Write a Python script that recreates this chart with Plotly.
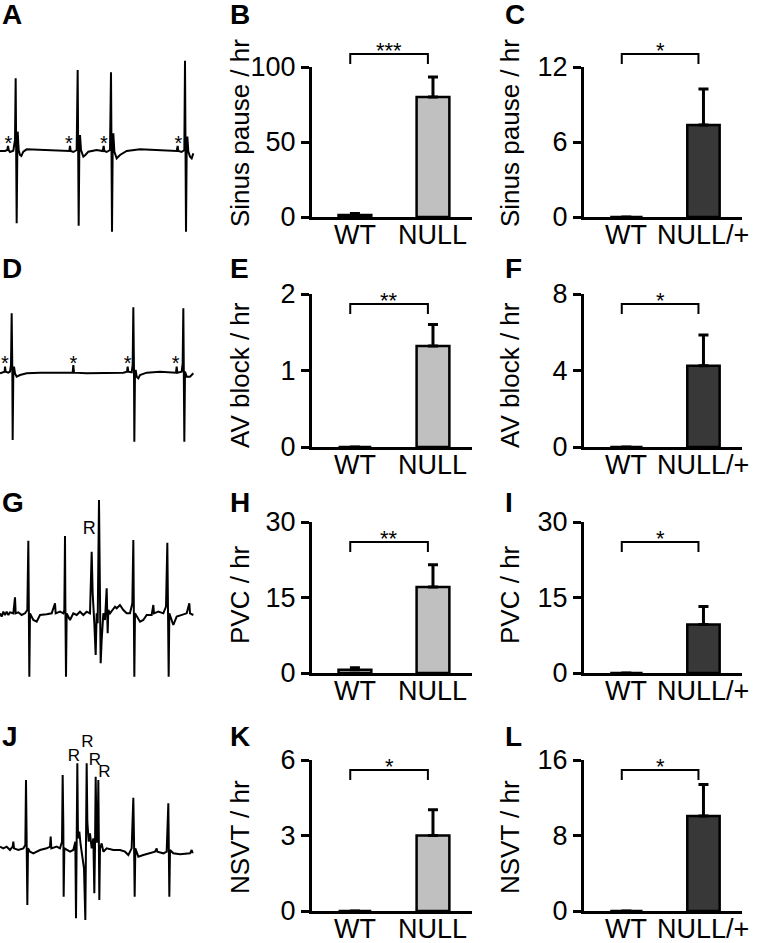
import plotly.graph_objects as go

W, H = 759, 943
FONT = "Liberation Sans, Arial, Helvetica, sans-serif"

# ---------------- ECG traces (time units, amplitude units) ----------------
ecg_a_t = [0, 15, 22, 24, 26, 30, 40, 45, 47, 49, 50, 52, 53, 56, 60, 64, 70, 80, 120, 160, 200, 208, 210, 212, 220, 230,
           233, 235, 236, 238, 240, 243, 250, 256, 265, 290, 308, 311, 313, 320, 330, 333, 335, 336, 338, 340, 343, 350,
           360, 380, 420, 500, 530, 533, 535, 545, 553, 555, 557, 558, 560, 562, 565, 570, 575, 580]
ecg_a_v = [-3, -3, 0, 12, 0, -6, -2, 30, 215, 0, -220, 0, 55, 0, -15, -18, -5, 2, 0, 0, -3, -3, 12, -3, -6, 0,
           240, 0, -227, 0, 45, 0, -20, -15, -5, 0, -3, 12, -3, -6, 0, 233, 0, -245, 0, 50, -5, -25,
           -15, -3, 2, 0, -3, 12, -3, -6, 0, 268, 0, -245, 0, 40, -5, -20, -25, -10]
ecg_a_star_t = [25, 207, 312, 535]

ecg_d_t = [0, 10, 14, 15, 17, 25, 30, 33, 35, 37, 38, 40, 42, 45, 50, 60, 80, 120, 160, 200, 218, 220, 222, 260, 300,
           340, 370, 381, 383, 385, 395, 398, 400, 402, 403, 405, 407, 410, 415, 420, 440, 480, 520, 528, 530, 532,
           545, 548, 550, 552, 553, 555, 560, 570, 580]
ecg_d_v = [-5, -3, 0, 15, 0, -3, 0, 20, 175, 0, -205, 0, 15, -5, -15, -10, -5, -3, -3, -3, -3, 20, -3, -5, -5,
           -5, -3, 0, 15, 0, -2, 20, 193, 0, -210, 0, 5, -15, -20, -10, -3, 0, -3, -3, 15, -3,
           0, 25, 190, 0, -210, 0, -15, -15, -5]
ecg_d_star_t = [15, 220, 383, 527]

ecg_g_t = [0, 5, 10, 15, 20, 25, 30, 40, 45, 47, 55, 65, 75, 82, 85, 87, 88, 90, 95, 100, 110, 120, 140, 155, 165,
           167, 180, 190, 193, 195, 196, 198, 200, 205, 210, 220, 230, 240, 250, 260, 270, 275, 278, 283, 287, 290,
           293, 297, 300, 302, 305, 310, 315, 320, 323, 325, 330, 345, 350, 360, 370, 380, 390, 397, 400, 402, 403,
           405, 410, 420, 430, 440, 455, 460, 462, 475, 490, 498, 502, 504, 506, 508, 513, 520, 530, 545, 560, 568,
           570, 580]
ecg_g_v = [0, -10, 5, -5, 5, -5, 3, 0, 48, 0, 3, -5, 0, 10, 218, 40, -190, 0, -10, -20, -25, -5, -3, 0, 30,
           0, 5, 0, 10, 232, 40, -190, 0, -10, -20, 0, -5, 5, -5, 5, 0, 185, 60, -30, -125, 0,
           -30, 340, -60, -150, -80, 0, -20, 75, -60, 10, 0, 20, 15, 25, 10, 0, 0, 30, 220, 40, -190,
           0, -10, -25, -20, -5, -5, 25, 0, 5, 0, 20, 212, 40, -190, 0, -15, -35, -10, -5, 0, 30,
           0, -5]
ecg_g_labels_t = [268]
ecg_g_labels_v = [252]

ecg_j_t = [0, 10, 20, 30, 38, 40, 42, 55, 70, 76, 78, 80, 82, 84, 90, 100, 120, 140, 150, 152, 154, 170, 180, 186,
           188, 190, 191, 193, 200, 210, 220, 226, 228, 230, 232, 234, 238, 242, 248, 252, 256, 258, 260, 262, 266,
           270, 275, 280, 283, 285, 287, 290, 293, 295, 297, 298, 300, 305, 310, 320, 340, 360, 375, 385, 395, 400,
           402, 404, 406, 415, 430, 450, 465, 470, 472, 490, 500, 505, 507, 508, 510, 520, 540, 560, 570, 575, 578]
ecg_j_v = [5, 0, 5, -5, 5, 20, 0, -5, 0, 10, 205, 75, -170, 0, -10, -15, -5, 0, 5, 35, 0, 5, 0, 20,
           220, 65, -145, 0, -5, -10, -5, 20, -210, 0, 255, 30, 50, 10, -30, -60, -215, 0, 255, 80, 20,
           45, 0, 30, -135, 0, 215, 20, 20, 205, 0, -155, 0, 15, -10, 0, -5, -5, -10, -20, 0, 152,
           30, -145, 0, -25, -20, -15, -10, 0, -10, -15, -10, 135, 20, -145, -5, -15, -18, -15, -15, -5, -15]
ecg_j_labels_t = [222, 262, 285, 313]
ecg_j_labels_v = [275, 317, 262, 227]

# ---------------- Bar data ----------------
groups_2 = ["WT", "NULL"]
groups_3 = ["WT", "NULL/+"]

sinus_null_mean = [1.3, 80.0]
sinus_null_err = [1.1, 13.3]
sinus_het_mean = [0.0, 7.36]
sinus_het_err = [0.0, 2.88]

av_null_mean = [0.0, 1.32]
av_null_err = [0.0, 0.28]
av_het_mean = [0.0, 4.25]
av_het_err = [0.0, 1.61]

pvc_null_mean = [0.65, 17.1]
pvc_null_err = [0.4, 4.4]
pvc_het_mean = [0.0, 9.66]
pvc_het_err = [0.0, 3.54]

nsvt_null_mean = [0.0, 3.0]
nsvt_null_err = [0.0, 1.02]
nsvt_het_mean = [0.0, 10.07]
nsvt_het_err = [0.0, 3.33]

y_titles = ["Sinus pause / hr", "AV block / hr", "PVC / hr", "NSVT / hr"]
y_ticks_2 = [[0, 50, 100], [0, 1, 2], [0, 15, 30], [0, 3, 6]]
y_ticks_3 = [[0, 6, 12], [0, 4, 8], [0, 15, 30], [0, 8, 16]]
stars_2 = ["***", "**", "**", "*"]
stars_3 = ["*", "*", "*", "*"]
letters = [["A", "B", "C"], ["D", "E", "F"], ["G", "H", "I"], ["J", "K", "L"]]

NULL_COLOR = "#c0c0c0"
HET_COLOR = "#383838"

# ---------------- layout geometry (pixels) ----------------
row_top = [67, 294, 522, 760]
row_bot = [217, 447, 673, 911]
col_x = [(312, 472), (584, 742)]
ecg_rows = [(40, 240, -270, 330), (270, 450, -235, 305), (490, 680, -200, 370), (700, 920, -215, 445)]
bracket_px = [(54, 64), (304, 314), (542, 552), (770, 780)]
title_y = [133, 375, 595, 837]
title_x = [240, 510]
letter_y = [15, 268, 502, 736]
letter_x = [0, 228, 503]
xlabel_gap = 18


def fx(p):
    return p / W


def fy(p):
    return 1 - p / H


fig = go.Figure()
layout = dict(template="none", width=W, height=H, margin=dict(l=0, r=0, t=0, b=0, pad=0),
              paper_bgcolor="white", plot_bgcolor="rgba(0,0,0,0)", showlegend=False,
              font=dict(family=FONT, color="black"))
annotations = []
ax_n = 0


def new_axes():
    global ax_n
    ax_n += 1
    s = "" if ax_n == 1 else str(ax_n)
    return s


# ECG panels
ecg_data = [(ecg_a_t, ecg_a_v), (ecg_d_t, ecg_d_v), (ecg_g_t, ecg_g_v), (ecg_j_t, ecg_j_v)]
for r, (t, v) in enumerate(ecg_data):
    s = new_axes()
    top, bot, lo, hi = ecg_rows[r]
    layout["xaxis" + s] = dict(domain=[0, fx(200)], range=[0, 600], visible=False, anchor="y" + s,
                               automargin=False)
    layout["yaxis" + s] = dict(domain=[fy(bot), fy(top)], range=[lo, hi], visible=False, anchor="x" + s,
                               automargin=False)
    fig.add_trace(go.Scatter(x=t, y=v, mode="lines", line=dict(color="black", width=2),
                             xaxis="x" + s, yaxis="y" + s, hoverinfo="skip"))
    if r == 0:
        fig.add_trace(go.Scatter(x=ecg_a_star_t, y=[15] * len(ecg_a_star_t), mode="text", text=["*"] * 4,
                                 textfont=dict(size=20, family=FONT), textposition="middle center",
                                 xaxis="x" + s, yaxis="y" + s, cliponaxis=False))
    if r == 1:
        fig.add_trace(go.Scatter(x=ecg_d_star_t, y=[20] * len(ecg_d_star_t), mode="text", text=["*"] * 4,
                                 textfont=dict(size=20, family=FONT), textposition="middle center",
                                 xaxis="x" + s, yaxis="y" + s, cliponaxis=False))
    if r == 2:
        fig.add_trace(go.Scatter(x=ecg_g_labels_t, y=ecg_g_labels_v, mode="text", text=["R"],
                                 textfont=dict(size=18, family=FONT), textposition="middle center",
                                 xaxis="x" + s, yaxis="y" + s, cliponaxis=False))
    if r == 3:
        fig.add_trace(go.Scatter(x=ecg_j_labels_t, y=ecg_j_labels_v, mode="text", text=["R"] * 4,
                                 textfont=dict(size=17, family=FONT), textposition="middle center",
                                 xaxis="x" + s, yaxis="y" + s, cliponaxis=False))

# Bar panels
bar_sets = [
    [(sinus_null_mean, sinus_null_err), (sinus_het_mean, sinus_het_err)],
    [(av_null_mean, av_null_err), (av_het_mean, av_het_err)],
    [(pvc_null_mean, pvc_null_err), (pvc_het_mean, pvc_het_err)],
    [(nsvt_null_mean, nsvt_null_err), (nsvt_het_mean, nsvt_het_err)],
]
XR = [-0.55, 1.5]
for r in range(4):
    for c in range(2):
        mean, err = bar_sets[r][c]
        ticks = y_ticks_2[r] if c == 0 else y_ticks_3[r]
        ymax = ticks[-1]
        labels = groups_2 if c == 0 else groups_3
        color = NULL_COLOR if c == 0 else HET_COLOR
        x0, x1 = col_x[c]
        s = new_axes()
        layout["xaxis" + s] = dict(domain=[fx(x0), fx(x1)], range=XR, anchor="y" + s, showline=True,
                                   linecolor="black", linewidth=3, tickvals=[0, 1], ticktext=labels,
                                   ticks="", showticklabels=False,
                                   showgrid=False, zeroline=False, fixedrange=True, automargin=False)
        layout["yaxis" + s] = dict(domain=[fy(row_bot[r]), fy(row_top[r])], range=[0, ymax], anchor="x" + s,
                                   showline=True, linecolor="black", linewidth=3, tickvals=ticks,
                                   ticks="outside", ticklen=8, tickwidth=3, tickcolor="black",
                                   tickfont=dict(size=27, family=FONT, color="black"),
                                   showgrid=False, zeroline=False, fixedrange=True, automargin=False)
        fig.add_trace(go.Bar(x=[0, 1], y=mean, width=0.42,
                             marker=dict(color=color, line=dict(color="black", width=2.5)),
                             error_y=dict(type="data", symmetric=False, array=err, arrayminus=[0, 0],
                                          thickness=3, width=5, color="black"),
                             xaxis="x" + s, yaxis="y" + s, hoverinfo="skip"))
        # category labels under the axis
        for i, lab in enumerate(labels):
            annotations.append(dict(xref="x" + s, yref="paper", x=i, y=fy(row_bot[r] + xlabel_gap),
                                    xanchor="center", yanchor="middle", text=lab, showarrow=False,
                                    borderpad=0, font=dict(size=27, family=FONT, color="black")))
        # bracket axes
        b = new_axes()
        btop_px = row_top[r] - 35
        span = row_bot[r] - row_top[r]
        brange = ymax * (row_bot[r] - btop_px) / span
        layout["xaxis" + b] = dict(domain=[fx(x0), fx(x1)], range=XR, visible=False, anchor="y" + b,
                                   fixedrange=True, automargin=False)
        layout["yaxis" + b] = dict(domain=[fy(row_bot[r]), fy(btop_px)], range=[0, brange], visible=False,
                                   anchor="x" + b, fixedrange=True, automargin=False)
        bt, bl = bracket_px[r]
        ytop = ymax * (row_bot[r] - bt) / span
        yleg = ymax * (row_bot[r] - bl) / span
        fig.add_trace(go.Scatter(x=[-0.06, -0.06, 0.935, 0.935], y=[yleg, ytop, ytop, yleg], mode="lines",
                                 line=dict(color="black", width=2), xaxis="x" + b, yaxis="y" + b,
                                 hoverinfo="skip"))
        annotations.append(dict(xref="x" + b, yref="y" + b, x=0.4375, y=ytop, yanchor="bottom",
                                text=(stars_2[r] if c == 0 else stars_3[r]), showarrow=False,
                                font=dict(size=22, family=FONT, color="black"), yshift=-11))
        # y title
        annotations.append(dict(xref="paper", yref="paper", x=fx(title_x[c]), y=fy(title_y[r]),
                                xanchor="center", yanchor="middle", text=y_titles[r], textangle=-90,
                                showarrow=False, font=dict(size=26, family=FONT, color="black")))

# panel letters
for r in range(4):
    for c in range(3):
        annotations.append(dict(xref="paper", yref="paper", x=fx(letter_x[c]), y=fy(letter_y[r]),
                                xanchor="left", yanchor="middle", text="<b>%s</b>" % letters[r][c],
                                showarrow=False, font=dict(size=28, family=FONT, color="black")))

layout["annotations"] = annotations
fig.update_layout(**layout)
fig.write_html("out.html", config={"displayModeBar": False, "staticPlot": True},
               post_script="document.body.style.margin='0';document.body.style.padding='0';"
                           "document.body.style.overflow='hidden';")
